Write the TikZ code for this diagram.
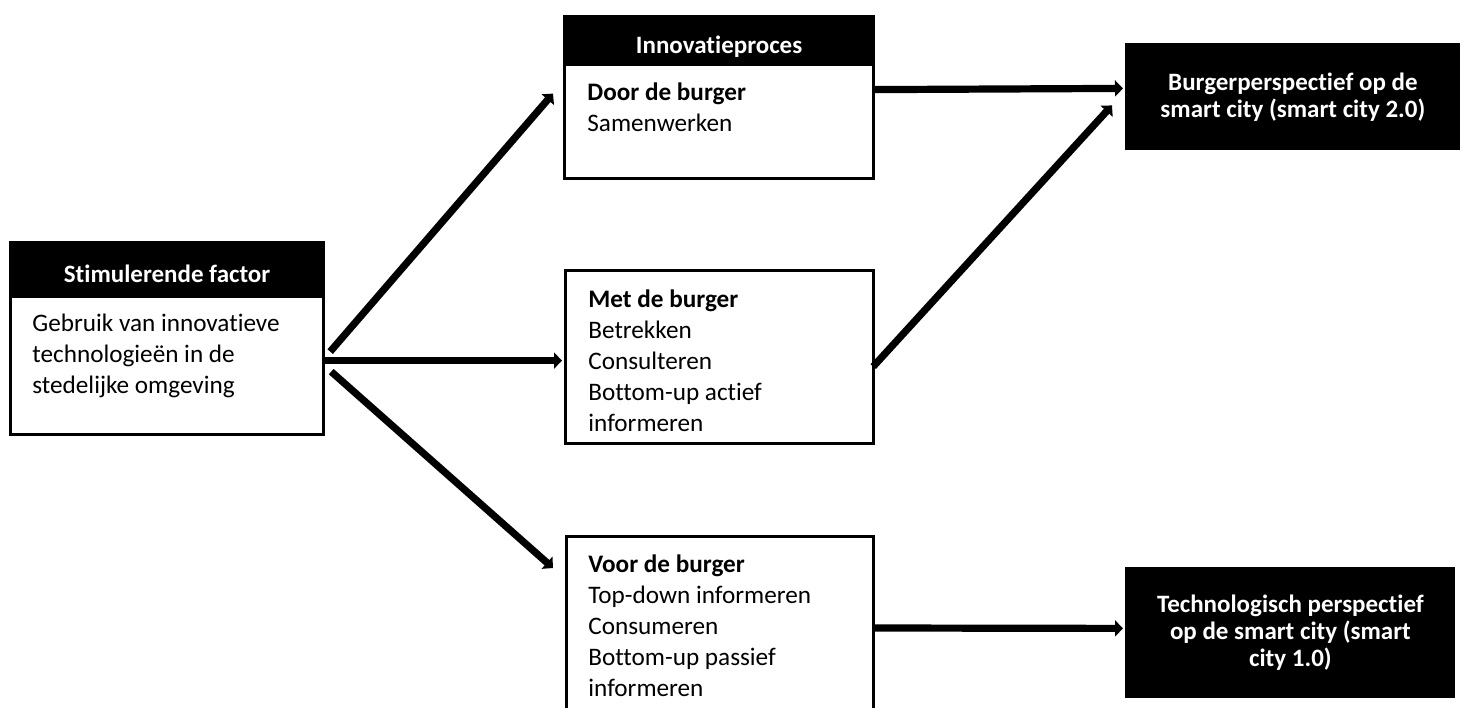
\documentclass[tikz,border=0pt]{standalone}
\usepackage{fontspec}
\setmainfont{Carlito}[Ligatures=NoCommon]
\usetikzlibrary{arrows.meta}

\tikzset{
 boxframe/.style={draw,line width=1.6pt,fill=white,anchor=north west,inner sep=0pt},
 headbar/.style={boxframe,fill=black,text=white,font=\bfseries\fontsize{12.5}{15.5}\selectfont,text height=12.5pt,text depth=0pt},
 bodytext/.style={anchor=base west,align=left,inner sep=0pt,font=\fontsize{12.6}{15.5}\selectfont},
 outcome/.style={fill=black,text=white,anchor=north west,inner sep=0pt,align=center,font=\bfseries\fontsize{12.5}{13.5}\selectfont},
 flow/.style={line width=3.6pt,-{Triangle[length=4pt,width=8pt]}}
}

\begin{document}
\begin{tikzpicture}[x=.5pt,y=-.5pt]
\useasboundingbox (0,0) rectangle (1467,707);

\node[headbar,minimum width=156.5pt,minimum height=27pt] (stimhead) at (9,241) {Stimulerende factor};
\node[boxframe,minimum width=156.5pt,minimum height=69pt] (stim) at (9,295) {};
\node[bodytext] (stimtxt) at ([shift={(23,98)}]stim.north west) {Gebruik van innovatieve\\technologieën in de\\stedelijke omgeving};

\node[headbar,minimum width=154.5pt,minimum height=24pt] (innohead) at (563,15) {Innovatieproces};
\node[boxframe,minimum width=154.5pt,minimum height=57pt] (door) at (563,63) {};
\node[bodytext] (doortxt) at ([shift={(24,68)}]door.north west) {\textbf{Door de burger}\\Samenwerken};

\node[boxframe,minimum width=154pt,minimum height=86.5pt] (met) at (564,269) {};
\node[bodytext] (mettxt) at ([shift={(24,162)}]met.north west) {\textbf{Met de burger}\\Betrekken\\Consulteren\\Bottom-up actief\\informeren};

\node[boxframe,minimum width=153.5pt,minimum height=95pt] (voor) at (565,535) {};
\node[bodytext] (voortxt) at ([shift={(23,161)}]voor.north west) {\textbf{Voor de burger}\\Top-down informeren\\Consumeren\\Bottom-up passief\\informeren};

\node[outcome,minimum width=167.5pt,minimum height=53.5pt] (burger) at (1125,43) {Burgerperspectief op de\\smart city (smart city 2.0)};
\node[outcome,minimum width=165pt,minimum height=65.5pt] (techno) at (1125,567) {Technologisch perspectief\\op de smart city (smart\\city 1.0)};

\draw[flow] ([shift={(5,-14)}]stim.east) -- ([shift={(-10,-28)}]door.west);
\draw[flow] ([shift={(0,-5)}]stim.east) -- ([shift={(-2,3.5)}]met.west);
\draw[flow] ([shift={(6,6)}]stim.east) -- ([shift={(-12,33)}]voor.north west);
\draw[flow] ([shift={(0,-32)}]door.east) -- ([shift={(-2,-8.5)}]burger.west);
\draw[flow] ([shift={(-2,9.5)}]met.east) -- ([shift={(-13,8.5)}]burger.west);
\draw[flow] ([shift={(0,93)}]voor.north east) -- ([shift={(-2,-4.5)}]techno.west);
\end{tikzpicture}
\end{document}
